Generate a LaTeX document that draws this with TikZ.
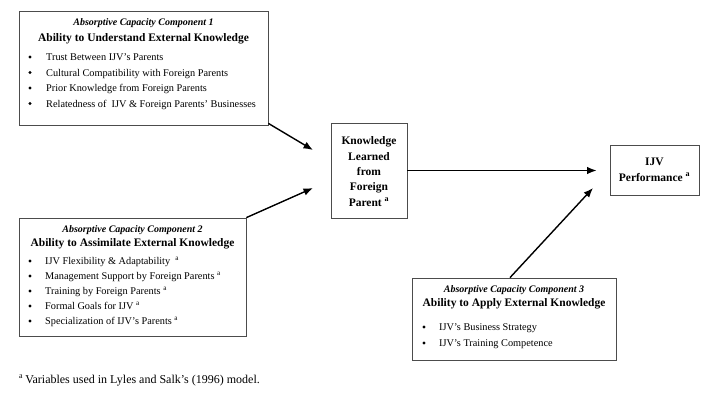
\documentclass[tikz,border=0pt]{standalone}
\usepackage{fontspec}
\setmainfont{Liberation Serif}
\usetikzlibrary{arrows.meta,calc}
\begin{document}
\begin{tikzpicture}[x=1pt,y=-1pt,
  box/.style={draw=black!70,line width=0.8pt,rectangle,inner sep=0pt},
  ttl/.style={font=\fontsize{10}{12}\selectfont\bfseries\itshape,inner sep=0pt,anchor=base},
  sub/.style={font=\fontsize{11.5}{13}\selectfont\bfseries,inner sep=0pt,anchor=base},
  itm/.style={font=\fontsize{10.3}{12}\selectfont,inner sep=0pt,anchor=base west},
  bul/.style={circle,fill=black,inner sep=0pt,minimum size=3.4pt},
  ctr/.style={font=\fontsize{11.5}{15.3}\selectfont\bfseries,align=center,inner sep=0pt},
  foot/.style={font=\fontsize{12}{14}\selectfont,inner sep=0pt,anchor=base west},
  arr/.style={-{Latex[length=9.5pt,width=7.5pt]},line width=1.4pt}]
\fill[white] (0,0) rectangle (720,400);
\useasboundingbox (0,0) rectangle (720,400);

% boxes
\node[box,minimum width=249pt,minimum height=114pt] (b1) at (143.5,68) {};
\node[box,minimum width=227pt,minimum height=118pt] (b2) at (132.5,277) {};
\node[box,minimum width=76pt,minimum height=95pt] (kn) at (369,170.5) {};
\node[box,minimum width=89pt,minimum height=50pt] (perf) at (654.5,170) {};
\node[box,minimum width=204pt,minimum height=82pt] (b3) at (514,319) {};

% box 1
\node[ttl] (b1t) at (143.5,25.5) {Absorptive Capacity Component 1};
\node[sub] (b1s) at (143.5,41) {Ability to Understand External Knowledge};
\foreach \t [count=\k] in {Trust Between IJV’s Parents,Cultural Compatibility with Foreign Parents,Prior Knowledge from Foreign Parents,Relatedness of~ IJV \& Foreign Parents’ Businesses}{
  \node[bul] (b1d\k) at (30,{41.5+15.5*\k}) {};
  \node[itm] (b1i\k) at (46,{45+15.5*\k}) {\t};
}

% box 2
\node[ttl] (b2t) at (132.5,232.5) {Absorptive Capacity Component 2};
\node[sub] (b2s) at (132.5,246) {Ability to Assimilate External Knowledge};
\foreach \t [count=\k] in {IJV Flexibility \& Adaptability~~\textsuperscript{a},Management Support by Foreign Parents \textsuperscript{a},Training by Foreign Parents \textsuperscript{a},Formal Goals for IJV \textsuperscript{a},Specialization of IJV’s Parents \textsuperscript{a}}{
  \node[bul] (b2d\k) at (30,{246+15*\k}) {};
  \node[itm] (b2i\k) at (45,{249.5+15*\k}) {\t};
}

% box 3
\node[ttl] (b3t) at (514,292.5) {Absorptive Capacity Component 3};
\node[sub] (b3s) at (514,306.5) {Ability to Apply External Knowledge};
\foreach \t [count=\k] in {IJV’s Business Strategy,IJV’s Training Competence}{
  \node[bul] (b3d\k) at (424,{311+16*\k}) {};
  \node[itm] (b3i\k) at (439,{314.5+16*\k}) {\t};
}

% centre boxes text
\node[ctr] (knt) at (369,171.5) {Knowledge\\Learned\\from\\Foreign\\Parent \textsuperscript{a}};
\node[ctr,font=\fontsize{11.5}{16}\selectfont\bfseries] (perft) at (654.5,169.5) {IJV\\Performance \textsuperscript{a}};

% footnote
\node[foot] (fn) at (19,383) {\textsuperscript{a}\,Variables used in Lyles and Salk{\char"27}s (1996) model.};

% arrows
\coordinate (t1) at (313,150);
\coordinate (t2) at (313,188);
\coordinate (t4) at (593,188);
\draw[arr] ($(b1.south east)+(0,-2)$) -- (t1);
\draw[arr] (b2.north east) -- (t2);
\draw[arr,shorten >=13pt] (kn.east) -- (kn.east -| perf.west);
\draw[arr] ($(b3.north)+(-4,0)$) -- (t4);
\end{tikzpicture}
\end{document}
